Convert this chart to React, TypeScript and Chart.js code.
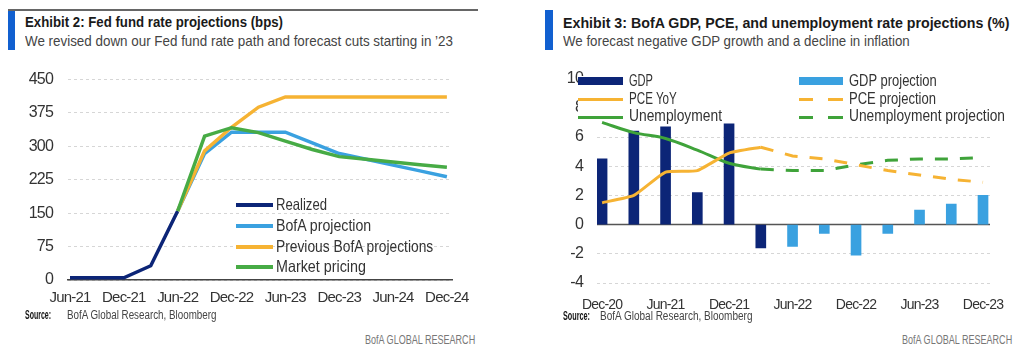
import React, { useEffect, useRef } from "react";
import { Chart, registerables } from "chart.js";
Chart.register(...registerables);

const FONT = '"Liberation Sans", Arial, sans-serif';

// ---------- Exhibit 2 data ----------
const fedQuarters = ["Jun-21", "Sep-21", "Dec-21", "Mar-22", "Jun-22", "Sep-22", "Dec-22", "Mar-23", "Jun-23", "Sep-23", "Dec-23", "Mar-24", "Jun-24", "Sep-24", "Dec-24"];
const fedTickLabels = ["Jun-21", "Dec-21", "Jun-22", "Dec-22", "Jun-23", "Dec-23", "Jun-24", "Dec-24"];
const realized = [5, 5, 5, 32, 155, null, null, null, null, null, null, null, null, null, null];
const bofaProjection = [null, null, null, null, 155, 284, 332, 332, 332, 308, 284, 271, 258, 245, 232];
const previousBofa = [null, null, null, null, 155, 290, 343, 388, 411, 411, 411, 411, 411, 411, 411];
const marketPricing = [null, null, null, null, 155, 323, 342, 331, 312, 293, 277, 271, 265, 259, 253];

// ---------- Exhibit 3 data ----------
const econQuarters = ["Dec-20", "Mar-21", "Jun-21", "Sep-21", "Dec-21", "Mar-22", "Jun-22", "Sep-22", "Dec-22", "Mar-23", "Jun-23", "Sep-23", "Dec-23"];
const econTickLabels = ["Dec-20", "Jun-21", "Dec-21", "Jun-22", "Dec-22", "Jun-23", "Dec-23"];
const gdp = [4.5, 6.4, 6.7, 2.2, 6.9, -1.6, null, null, null, null, null, null, null];
const gdpProjection = [null, null, null, null, null, null, -1.5, -0.6, -2.1, -0.6, 1.0, 1.4, 2.0];
const pceYoY = [1.5, 2.0, 3.6, 3.7, 4.9, 5.3, null, null, null, null, null, null, null];
const pceProjection = [null, null, null, null, null, 5.3, 4.7, 4.5, 4.1, 3.7, 3.4, 3.1, 2.9];
const unemployment = [7.0, 6.3, 5.9, 5.1, 4.2, 3.8, null, null, null, null, null, null, null];
const unemploymentProjection = [null, null, null, null, null, 3.8, 3.7, 3.7, 4.1, 4.4, 4.5, 4.5, 4.6];

const NAVY = "#0c2577";
const LIGHTBLUE = "#3aa1e0";
const ORANGE = "#f6b333";
const GREEN = "#47ab45";
const GREEN2 = "#3fa33a";
const HEADER_BLUE = "#1160d0";
const TICK_COLOR = "#333";

const pts = (arr: (number | null)[]) =>
  arr.map((v, i) => (v === null ? null : { x: i, y: v })).filter((p) => p !== null) as { x: number; y: number }[];

// narrow the canvas text a little (the reference uses a condensed face)
const condensePlugin = {
  id: "condense",
  beforeUpdate(chart: any) {
    chart.ctx.letterSpacing = "-0.8px";
  },
  beforeDraw(chart: any) {
    chart.ctx.letterSpacing = "-0.8px";
  },
};

function leftConfig(): any {
  return {
    type: "line",
    data: {
      datasets: [
        { label: "Market pricing", data: pts(marketPricing), borderColor: GREEN, borderWidth: 3.5, pointRadius: 0, tension: 0, order: 0 },
        { label: "Previous BofA projections", data: pts(previousBofa), borderColor: ORANGE, borderWidth: 3.5, pointRadius: 0, tension: 0, order: 1 },
        { label: "BofA projection", data: pts(bofaProjection), borderColor: LIGHTBLUE, borderWidth: 3.5, pointRadius: 0, tension: 0, order: 2 },
        { label: "Realized", data: pts(realized), borderColor: NAVY, borderWidth: 3.5, pointRadius: 0, tension: 0, order: 3 },
      ],
    },
    plugins: [condensePlugin],
    options: {
      animation: false,
      responsive: false,
      layout: { padding: { top: 19, right: 28, left: 0, bottom: 0 } },
      plugins: { legend: { display: false }, tooltip: { enabled: false } },
      scales: {
        x: {
          type: "linear",
          min: -0.074,
          max: 14.19,
          afterBuildTicks: (s: any) => {
            s.ticks = fedTickLabels.map((_, i) => ({ value: i * 2 }));
          },
          afterFit: (s: any) => {
            s.height = 35;
          },
          grid: { display: false, drawTicks: false },
          border: { display: true, color: "#444", width: 1.5 },
          ticks: {
            autoSkip: false,
            maxRotation: 0,
            padding: 9,
            color: TICK_COLOR,
            font: { family: FONT, size: 15 },
            callback: (v: number) => fedTickLabels[v / 2] ?? "",
          },
        },
        y: {
          min: 0,
          max: 450,
          afterFit: (s: any) => {
            s.width = 68;
          },
          ticks: { stepSize: 75, padding: 15, color: TICK_COLOR, font: { family: FONT, size: 16 } },
          grid: { color: "#d6d6d6", lineWidth: 1, drawTicks: false },
          border: { display: false, dash: [3, 3] },
        },
      },
    },
  };
}

const zeroLinePlugin = {
  id: "zeroLine",
  beforeDatasetsDraw(chart: any) {
    const { ctx, chartArea, scales } = chart;
    const y = scales.y.getPixelForValue(0);
    ctx.save();
    ctx.strokeStyle = "#555";
    ctx.lineWidth = 1.5;
    ctx.beginPath();
    ctx.moveTo(chartArea.left, y);
    ctx.lineTo(chartArea.right, y);
    ctx.stroke();
    ctx.restore();
  },
};

function rightConfig(): any {
  return {
    type: "bar",
    data: {
      datasets: [
        { type: "line", label: "PCE YoY", data: pts(pceYoY), borderColor: ORANGE, borderWidth: 3, pointRadius: 0, tension: 0.15, order: 0 },
        { type: "line", label: "Unemployment", data: pts(unemployment), borderColor: GREEN2, borderWidth: 3, pointRadius: 0, cubicInterpolationMode: "monotone", order: 0 },
        { type: "line", label: "PCE projection", data: pts(pceProjection), borderColor: ORANGE, borderWidth: 3, borderDash: [13, 12], pointRadius: 0, tension: 0, order: 0 },
        { type: "line", label: "Unemployment projection", data: pts(unemploymentProjection), borderColor: GREEN2, borderWidth: 3, borderDash: [13, 12], pointRadius: 0, tension: 0, order: 0 },
        { type: "bar", label: "GDP", data: pts(gdp), backgroundColor: NAVY, barThickness: 10, grouped: false, order: 1 },
        { type: "bar", label: "GDP projection", data: pts(gdpProjection), backgroundColor: LIGHTBLUE, barThickness: 10, grouped: false, order: 1 },
      ],
    },
    plugins: [zeroLinePlugin, condensePlugin],
    options: {
      animation: false,
      responsive: false,
      layout: { padding: { top: 20, right: 34, left: 0, bottom: 0 } },
      plugins: { legend: { display: false }, tooltip: { enabled: false } },
      scales: {
        x: {
          type: "linear",
          min: -0.16,
          max: 12.22,
          offset: false,
          afterBuildTicks: (s: any) => {
            s.ticks = econTickLabels.map((_, i) => ({ value: i * 2 }));
          },
          afterFit: (s: any) => {
            s.height = 37;
          },
          grid: { display: false, drawTicks: false },
          border: { display: false },
          ticks: {
            autoSkip: false,
            maxRotation: 0,
            padding: 14,
            color: TICK_COLOR,
            font: { family: FONT, size: 14 },
            callback: (v: number) => econTickLabels[v / 2] ?? "",
          },
        },
        y: {
          min: -4,
          max: 10,
          afterFit: (s: any) => {
            s.width = 77;
          },
          ticks: { stepSize: 2, padding: 14, color: TICK_COLOR, font: { family: FONT, size: 16 } },
          grid: {
            color: (c: any) => (c.tick && c.tick.value === 0 ? "rgba(0,0,0,0)" : "#d6d6d6"),
            lineWidth: 1,
            drawTicks: false,
          },
          border: { display: false, dash: [3, 3] },
        },
      },
    },
  };
}

const abs = (l: number, t: number, extra: any = {}): any => ({ position: "absolute", left: l, top: t, ...extra });

let measureCtx: CanvasRenderingContext2D | null = null;
function measure(text: string, font: string): number {
  if (!measureCtx) measureCtx = document.createElement("canvas").getContext("2d");
  measureCtx!.font = font;
  return measureCtx!.measureText(text).width;
}

// text horizontally condensed to the width it has in the reference; y = centre of capitals
function FitText({ x, y, w, text, size = 16, bold = false, color = "#333" }: any) {
  const font = `${bold ? "bold " : ""}${size}px ${FONT}`;
  const s = w / measure(text, font);
  return (
    <div
      style={abs(x, y - size * 0.59, {
        font,
        lineHeight: `${size * 1.2}px`,
        color,
        whiteSpace: "nowrap",
        transform: `scaleX(${s})`,
        transformOrigin: "0 0",
      })}
    >
      {text}
    </div>
  );
}

function LineSwatch({ x, y, w, color, dashed, h = 3.5 }: any) {
  if (dashed) {
    return (
      <>
        <div style={abs(x, y - h / 2, { width: 14, height: h, background: color })} />
        <div style={abs(x + w - 15, y - h / 2, { width: 15, height: h, background: color })} />
      </>
    );
  }
  return <div style={abs(x, y - h / 2, { width: w, height: h, background: color })} />;
}

export default function App() {
  const leftRef = useRef<HTMLCanvasElement>(null);
  const rightRef = useRef<HTMLCanvasElement>(null);
  useEffect(() => {
    const c1 = new Chart(leftRef.current!, leftConfig());
    const c2 = new Chart(rightRef.current!, rightConfig());
    return () => {
      c1.destroy();
      c2.destroy();
    };
  }, []);

  const leftLegend = [
    { label: "Realized", color: NAVY, w: 51 },
    { label: "BofA projection", color: LIGHTBLUE, w: 96 },
    { label: "Previous BofA projections", color: ORANGE, w: 158 },
    { label: "Market pricing", color: GREEN, w: 90 },
  ];
  const leftLegendY = [205, 226, 247, 267];

  return (
    <div style={{ position: "absolute", left: 0, top: 0, width: 1024, height: 357, background: "#fff", overflow: "hidden", fontFamily: FONT }}>
      {/* Left header */}
      <div style={abs(8, 9, { width: 470, height: 1.5, background: "#666" })} />
      <div style={abs(8, 11, { width: 7, height: 39, background: HEADER_BLUE })} />
      <FitText x={25} y={22.5} w={258} size={15.5} bold color="#1a1a1a" text="Exhibit 2: Fed fund rate projections (bps)" />
      <FitText x={25} y={41} w={428} size={15} color="#444" text="We revised down our Fed fund rate path and forecast cuts starting in ’23" />

      {/* Right header */}
      <div style={abs(545, 10, { width: 8, height: 40, background: HEADER_BLUE })} />
      <FitText x={563} y={23.5} w={447} size={15.5} bold color="#1a1a1a" text="Exhibit 3: BofA GDP, PCE, and unemployment rate projections (%)" />
      <FitText x={563} y={40.5} w={347} size={15} color="#444" text="We forecast negative GDP growth and a decline in inflation" />

      {/* Canvases */}
      <canvas ref={leftRef} width={480} height={260} style={abs(0, 55, { width: 480, height: 260, display: "block" })} />
      <canvas ref={rightRef} width={504} height={265} style={abs(520, 55, { width: 504, height: 265, display: "block" })} />

      {/* Left legend */}
      {leftLegend.map((it, i) => (
        <React.Fragment key={it.label}>
          <LineSwatch x={236} y={leftLegendY[i]} w={37} color={it.color} />
          <FitText x={276} y={leftLegendY[i]} w={it.w} size={16.5} text={it.label} />
        </React.Fragment>
      ))}

      {/* Right legend */}
      <div style={abs(578, 76, { width: 430, height: 36, background: "#fff" })} />
      <div style={abs(578, 77, { width: 45, height: 8, background: NAVY })} />
      <FitText x={629} y={81} w={24} size={16.5} text="GDP" />
      <LineSwatch x={578} y={99} w={45} color={ORANGE} h={3} />
      <FitText x={629} y={99} w={48} size={16.5} text="PCE YoY" />
      <LineSwatch x={578} y={117} w={45} color={GREEN2} h={3} />
      <FitText x={629} y={116} w={93} size={16.5} text="Unemployment" />

      <div style={abs(799, 77, { width: 44, height: 8, background: LIGHTBLUE })} />
      <FitText x={849} y={81} w={88} size={16.5} text="GDP projection" />
      <LineSwatch x={799} y={99} w={44} color={ORANGE} dashed h={3} />
      <FitText x={849} y={99} w={87} size={16.5} text="PCE projection" />
      <LineSwatch x={799} y={117} w={44} color={GREEN2} dashed h={3} />
      <FitText x={849} y={116} w={156} size={16.5} text="Unemployment projection" />

      {/* Sources */}
      <FitText x={25} y={315} w={26} size={12} bold color="#111" text="Source:" />
      <FitText x={67} y={315} w={150} size={12} color="#444" text="BofA Global Research, Bloomberg" />
      <FitText x={563} y={316} w={27} size={12} bold color="#111" text="Source:" />
      <FitText x={600} y={316} w={153} size={12} color="#444" text="BofA Global Research, Bloomberg" />
      <FitText x={365} y={340} w={111} size={12} color="#777" text="BofA GLOBAL RESEARCH" />
      <FitText x={902} y={340} w={111} size={12} color="#777" text="BofA GLOBAL RESEARCH" />
    </div>
  );
}
